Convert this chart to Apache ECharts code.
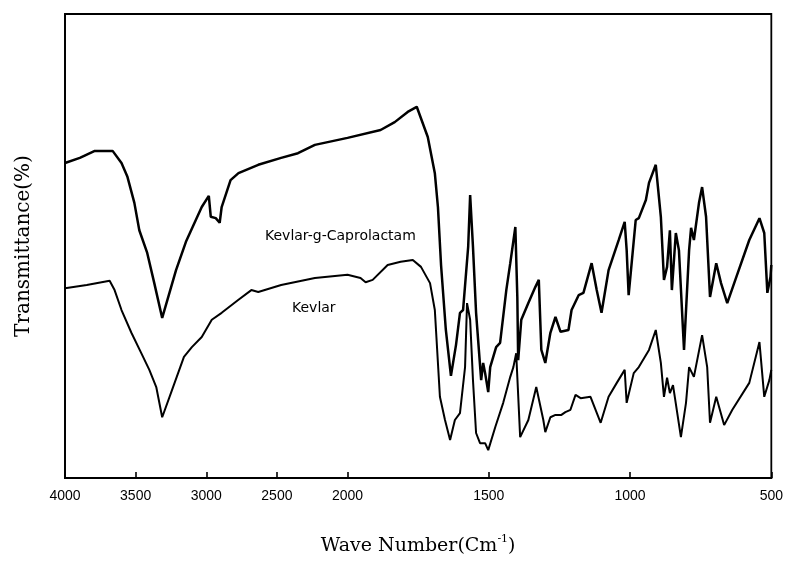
<!DOCTYPE html>
<html>
<head>
<meta charset="utf-8">
<script src="https://cdn.jsdelivr.net/npm/echarts@6/dist/echarts.min.js"></script>
<style>
html, body { margin: 0; padding: 0; background: #fff; }
#chart1 { width: 786px; height: 580px; }
</style>
</head>
<body>
<div id="chart1"></div>
<script>
// Kevlar-g-Caprolactam 曲线 (波数 / 透过率)
var kgcWave = [4000, 3895, 3789, 3663, 3600, 3558, 3509, 3474, 3418, 3368, 3312, 3214, 3144, 3074, 3032, 2982, 2968, 2933, 2905, 2891, 2828, 2772, 2632, 2470, 2351, 2231, 2000,
	1883, 1833, 1787, 1755, 1716, 1691, 1680, 1669, 1652, 1634, 1616, 1602, 1591, 1573, 1566, 1556, 1545, 1527, 1520, 1513, 1502, 1495, 1474, 1460, 1438, 1424, 1406, 1399, 1396,
	1385, 1360, 1335, 1323, 1314, 1300, 1282, 1264, 1246, 1218, 1207, 1182, 1165, 1136, 1118, 1101, 1076, 1040, 1019, 1012, 1005, 980, 969, 944, 933, 909, 891, 880, 869, 859,
	852, 838, 827, 809, 791, 784, 774, 756, 745, 731, 717, 695, 678, 656, 624, 578, 542, 525, 514, 503, 500];
var kgcT = [67.9, 69.0, 70.5, 70.5, 67.9, 64.9, 59.3, 53.4, 48.5, 42.0, 34.5, 44.8, 50.9, 55.6, 58.4, 60.8, 56.3, 56.0, 55.0, 58.4, 64.2, 65.7, 67.5, 69.0, 70.0, 71.8, 73.3,
	75.0, 76.7, 78.9, 80.0, 73.5, 65.7, 58.4, 45.9, 31.9, 22.0, 28.7, 35.6, 36.2, 49.8, 61.0, 49.8, 35.6, 21.1, 24.8, 22.6, 18.5, 23.9, 28.2, 29.1, 40.5, 46.3, 54.1, 39.0, 25.4,
	34.1, 37.7, 41.2, 42.7, 27.6, 24.8, 31.3, 34.7, 31.5, 31.9, 36.2, 39.4, 39.9, 46.3, 40.5, 35.6, 44.8, 51.3, 55.2, 49.1, 39.4, 55.6, 56.0, 59.9, 63.6, 67.5, 56.3, 42.7, 45.5, 53.4,
	40.5, 52.8, 49.1, 27.6, 49.1, 53.9, 51.3, 59.3, 62.7, 56.3, 39.0, 46.3, 42.0, 37.7, 43.3, 51.3, 56.0, 52.8, 39.9, 43.3, 45.9];
// Kevlar 曲线
var kevWave = [4000, 3846, 3684, 3649, 3600, 3530, 3460, 3403, 3354, 3312, 3242, 3158, 3102, 3032, 2961, 2891, 2772, 2681, 2632, 2470, 2231, 2000,
	1954, 1936, 1911, 1858, 1812, 1769, 1740, 1708, 1691, 1673, 1655, 1637, 1620, 1602, 1584, 1577, 1566, 1556, 1545, 1531, 1513, 1502, 1477, 1449, 1424, 1413, 1403, 1389,
	1360, 1332, 1307, 1300, 1282, 1264, 1243, 1229, 1211, 1193, 1175, 1140, 1104, 1076, 1047, 1019, 1012, 987, 969, 933, 909, 891, 880, 869, 859, 848, 820, 802, 791, 774,
	745, 727, 717, 695, 667, 638, 578, 542, 525, 507, 500];
var kevT = [40.9, 41.6, 42.5, 40.5, 36.2, 31.3, 26.9, 23.3, 19.6, 13.1, 19.0, 26.1, 28.2, 30.4, 34.1, 35.6, 38.4, 40.5, 40.1, 41.6, 43.1, 43.8,
	43.1, 42.2, 42.7, 45.9, 46.6, 47.0, 45.5, 42.0, 36.2, 17.5, 12.5, 8.2, 12.5, 14.0, 23.9, 37.7, 34.1, 21.1, 9.7, 7.5, 7.5, 6.0, 11.0, 16.2, 21.8, 23.9, 26.9, 8.8,
	12.5, 19.6, 12.5, 9.9, 13.1, 13.6, 13.6, 14.2, 14.7, 17.9, 17.2, 17.5, 11.9, 17.5, 20.5, 23.3, 16.2, 22.6, 23.9, 27.6, 31.9, 24.8, 17.5, 21.6, 18.3, 20.0, 8.8, 16.2, 23.9, 21.8,
	30.8, 23.9, 11.9, 17.5, 11.4, 14.7, 20.5, 29.3, 17.5, 21.1, 23.3];
// 横轴刻度 (cm-1)
var tickWaves = [4000, 3500, 3000, 2500, 2000, 1500, 1000, 500];

// 2000 以下横轴比例放大一倍
function toAxis(w) {
	return w >= 2000 ? 4000 - w : 2000 + (2000 - w) * 2;
}
function fromAxis(u) {
	return u <= 2000 ? 4000 - u : 2000 - (u - 2000) / 2;
}
function build(waves, vals) {
	return waves.map(function (w, i) { return [toAxis(w), vals[i]]; });
}

var myChart = echarts.init(document.getElementById('chart1'));
var option = {
	backgroundColor: '#fff',
	animation: false,
	grid: {
		left: 65, right: 14, top: 14, bottom: 102,
		show: true,
		borderColor: '#000',
		borderWidth: 1.8
	},
	xAxis: {
		type: 'value',
		min: 0,
		max: 5000,
		name: '{t|Wave Number(Cm}{s|-1}{t|)}',
		nameLocation: 'middle',
		nameGap: 56,
		nameTextStyle: {
			rich: {
				t: { fontFamily: 'DejaVu Serif', fontSize: 19, color: '#000' },
				s: { fontFamily: 'DejaVu Serif', fontSize: 11, color: '#000', padding: [0, 0, 13, 0] }
			}
		},
		axisLine: { show: true, onZero: false, lineStyle: { color: '#000', width: 1.8 } },
		axisTick: {
			show: true, inside: true, length: 6,
			customValues: tickWaves.map(toAxis),
			lineStyle: { color: '#000', width: 1.6 }
		},
		axisLabel: {
			customValues: tickWaves.map(toAxis),
			formatter: function (v) { return String(Math.round(fromAxis(v))); },
			margin: 11,
			color: '#000',
			fontFamily: 'Liberation Sans',
			fontSize: 14
		},
		splitLine: { show: false }
	},
	yAxis: {
		type: 'value',
		min: 0,
		max: 100,
		name: 'Transmittance(%)',
		nameLocation: 'middle',
		nameGap: 31,
		nameRotate: 90,
		nameTextStyle: { fontFamily: 'DejaVu Serif', fontSize: 20, color: '#000' },
		axisLine: { show: true, lineStyle: { color: '#000', width: 1.8 } },
		axisTick: { show: false },
		axisLabel: { show: false },
		splitLine: { show: false }
	},
	graphic: [
		{ type: 'text', left: 265, top: 229, style: { text: 'Kevlar-g-Caprolactam', font: '14px "DejaVu Sans"', fill: '#000' } },
		{ type: 'text', left: 292, top: 301, style: { text: 'Kevlar', font: '14px "DejaVu Sans"', fill: '#000' } }
	],
	series: [
		{
			name: 'Kevlar-g-Caprolactam',
			type: 'line',
			data: build(kgcWave, kgcT),
			symbol: 'none',
			lineStyle: { color: '#000', width: 2.5 }
		},
		{
			name: 'Kevlar',
			type: 'line',
			data: build(kevWave, kevT),
			symbol: 'none',
			lineStyle: { color: '#000', width: 2 }
		}
	]
};
myChart.setOption(option);
</script>
</body>
</html>
